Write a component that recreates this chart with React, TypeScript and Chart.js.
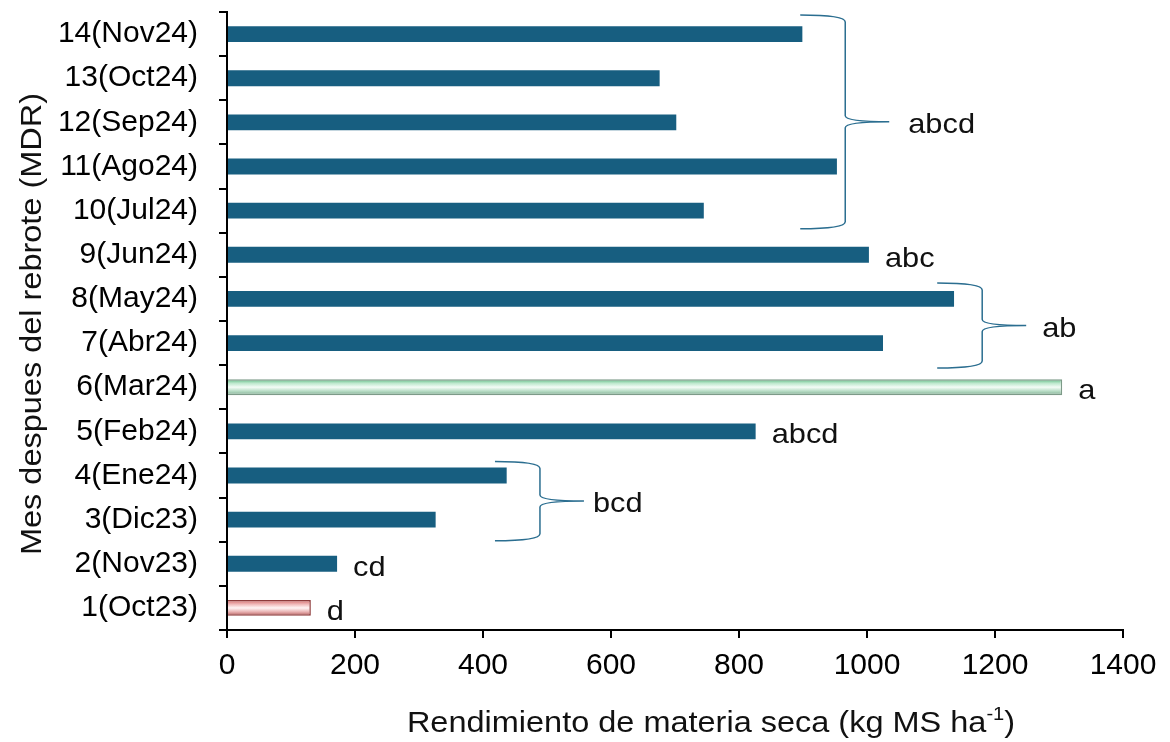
import { useEffect, useRef } from 'react';
import { Chart, registerables } from 'chart.js';
Chart.register(...registerables);

const categories = [
  '1(Oct23)', '2(Nov23)', '3(Dic23)', '4(Ene24)', '5(Feb24)', '6(Mar24)', '7(Abr24)',
  '8(May24)', '9(Jun24)', '10(Jul24)', '11(Ago24)', '12(Sep24)', '13(Oct24)', '14(Nov24)',
];
const yieldValues = [131, 172, 326, 437, 826, 1305, 1025, 1136, 1003, 745, 953, 702, 676, 899];
const xTickValues = [0, 200, 400, 600, 800, 1000, 1200, 1400];
const barLetters = ['d', 'cd', '', '', 'abcd', 'a', '', '', 'abc', '', '', '', '', ''];
const groupFrom = [3, 7, 10];
const groupTo = [4, 8, 14];
const groupLetters = ['bcd', 'ab', 'abcd'];

// styling / geometry config (not data)
const FONT = '"Liberation Sans", Arial, sans-serif';
const DARK = '#175e80';
const LOW_INDEX = 0;
const HIGH_INDEX = 5;
const bracketGeom = [
  { xVal: 489, topPad: 14, botPad: 21, labelGap: 9 },
  { xVal: 1180, topPad: 16, botPad: 25, labelGap: 16 },
  { xVal: 966, topPad: 19, botPad: 18, labelGap: 19 },
];

function stretchText(ctx: CanvasRenderingContext2D, text: string, x: number, y: number, align: CanvasTextAlign, sx = 1.1) {
  ctx.save();
  ctx.translate(x, y);
  ctx.scale(sx, 1);
  ctx.textAlign = align;
  ctx.fillText(text, 0, 0);
  ctx.restore();
}

function makeGradient(ctx: CanvasRenderingContext2D, mid: number, high: boolean) {
  const h = 8;
  const g = ctx.createLinearGradient(0, mid - h, 0, mid + h);
  if (high) {
    g.addColorStop(0, '#5cb882');
    g.addColorStop(0.25, '#bde8cd');
    g.addColorStop(0.5, '#f4fcf7');
    g.addColorStop(0.75, '#b6dcc4');
    g.addColorStop(1, '#7fa990');
  } else {
    g.addColorStop(0, '#d46666');
    g.addColorStop(0.3, '#f3c2c2');
    g.addColorStop(0.5, '#fff5f5');
    g.addColorStop(0.75, '#e8b0b0');
    g.addColorStop(1, '#b05858');
  }
  return g;
}

const gradientPlugin = {
  id: 'barGradients',
  beforeDatasetsDraw(chart: any) {
    const meta = chart.getDatasetMeta(0);
    [LOW_INDEX, HIGH_INDEX].forEach((i) => {
      const el = meta.data[i];
      if (!el || !isFinite(el.y)) return;
      el.options.backgroundColor = makeGradient(chart.ctx, el.y, i === HIGH_INDEX);
    });
  },
};

const annotationPlugin = {
  id: 'annotations',
  afterDraw(chart: any) {
    const ctx: CanvasRenderingContext2D = chart.ctx;
    const xs = chart.scales.x;
    const ys = chart.scales.y;
    ctx.save();
    ctx.fillStyle = '#111';
    ctx.textBaseline = 'alphabetic';
    ctx.font = `28px ${FONT}`;
    barLetters.forEach((t, i) => {
      if (!t) return;
      const x = xs.getPixelForValue(yieldValues[i]) + 16;
      const y = ys.getPixelForValue(i) + 12;
      stretchText(ctx, t, x, y, 'left');
    });
    groupLetters.forEach((t, g) => {
      const geo = bracketGeom[g];
      const yTop = ys.getPixelForValue(groupTo[g] - 1) - geo.topPad;
      const yBot = ys.getPixelForValue(groupFrom[g] - 1) + geo.botPad;
      const yMid = (yTop + yBot) / 2;
      const x1 = xs.getPixelForValue(geo.xVal);
      const x0 = x1 - 45;
      const x2 = x1 + 44;
      const r = 7;
      ctx.beginPath();
      ctx.strokeStyle = '#2b6e90';
      ctx.lineWidth = 1.5;
      ctx.moveTo(x0, yTop);
      ctx.quadraticCurveTo(x1, yTop, x1, yTop + r);
      ctx.lineTo(x1, yMid - 6);
      ctx.quadraticCurveTo(x1, yMid, x2, yMid);
      ctx.quadraticCurveTo(x1, yMid, x1, yMid + 6);
      ctx.lineTo(x1, yBot - r);
      ctx.quadraticCurveTo(x1, yBot, x0, yBot);
      ctx.stroke();
      stretchText(ctx, t, x2 + geo.labelGap, yMid + 11, 'left');
    });
    const main = 'Rendimiento de materia seca (kg MS ha';
    const sup = '-1';
    const close = ')';
    const sx = 1.12;
    ctx.font = `29px ${FONT}`;
    const wMain = ctx.measureText(main).width * sx;
    ctx.font = `18px ${FONT}`;
    const wSup = ctx.measureText(sup).width * sx;
    ctx.font = `29px ${FONT}`;
    const wClose = ctx.measureText(close).width * sx;
    const total = wMain + wSup + wClose;
    const cx = 711;
    const startX = cx - total / 2;
    const baseY = 732;
    stretchText(ctx, main, startX, baseY, 'left', sx);
    ctx.font = `18px ${FONT}`;
    stretchText(ctx, sup, startX + wMain, baseY - 12, 'left', sx);
    ctx.font = `29px ${FONT}`;
    stretchText(ctx, close, startX + wMain + wSup, baseY, 'left', sx);

    ctx.save();
    ctx.translate(41, 324);
    ctx.rotate(-Math.PI / 2);
    ctx.scale(1.12, 1);
    ctx.textAlign = 'center';
    ctx.fillText('Mes despues del rebrote (MDR)', 0, 0);
    ctx.restore();
    ctx.restore();
  },
};

export default function App() {
  const ref = useRef<HTMLCanvasElement | null>(null);
  useEffect(() => {
    document.body.style.margin = '0';
    const canvas = ref.current;
    if (!canvas) return;
    const chart = new Chart(canvas, {
      type: 'bar',
      data: {
        labels: categories,
        datasets: [
          {
            data: yieldValues,
            backgroundColor: yieldValues.map(() => DARK),
            borderColor: yieldValues.map((_, i) => (i === HIGH_INDEX ? '#7d9a88' : i === LOW_INDEX ? '#8e3b3b' : DARK)),
            borderWidth: yieldValues.map((_, i) => (i === HIGH_INDEX || i === LOW_INDEX ? 1.5 : 0)),
            barPercentage: 0.36,
            categoryPercentage: 1,
          },
        ],
      },
      options: {
        indexAxis: 'y',
        responsive: false,
        animation: false,
        layout: { padding: { top: 12, right: 47, left: 0, bottom: 0 } },
        plugins: { legend: { display: false }, tooltip: { enabled: false } },
        scales: {
          x: {
            type: 'linear',
            min: 0,
            max: 1400,
            afterBuildTicks: (s: any) => {
              s.ticks = xTickValues.map((v) => ({ value: v }));
            },
            afterFit: (s: any) => {
              s.height = 112;
              s.paddingLeft = 0;
              s.paddingRight = 0;
            },
            grid: { drawOnChartArea: false, drawTicks: true, tickLength: 8, color: '#000', lineWidth: 2 },
            border: { display: true, color: '#000', width: 2 },
            ticks: {
              color: '#000',
              font: { family: FONT, size: 30 },
              padding: 10,
              maxRotation: 0,
              autoSkip: false,
              callback: (v: any) => String(v),
            },
          },
          y: {
            type: 'category',
            reverse: true,
            offset: true,
            afterFit: (s: any) => {
              s.width = 227;
              s.paddingTop = 0;
              s.paddingBottom = 0;
            },
            grid: { offset: true, drawOnChartArea: false, drawTicks: true, tickLength: 8, color: '#000', lineWidth: 2 },
            border: { display: true, color: '#000', width: 2 },
            ticks: { color: '#000', font: { family: FONT, size: 30 }, padding: 21, autoSkip: false },
          },
        },
      },
      plugins: [gradientPlugin, annotationPlugin],
    } as any);
    return () => chart.destroy();
  }, []);
  return (
    <div style={{ width: 1170, height: 742 }}>
      <canvas ref={ref} width={1170} height={742} />
    </div>
  );
}
